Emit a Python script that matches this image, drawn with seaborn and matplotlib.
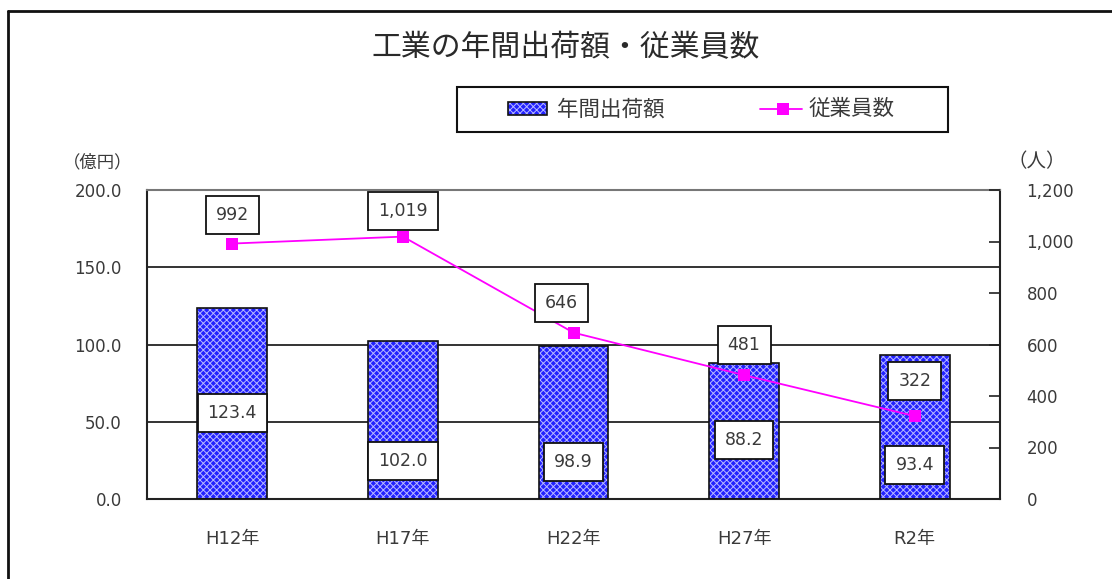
import numpy as np
import pandas as pd
import matplotlib
matplotlib.use("Agg")
import matplotlib.pyplot as plt
from matplotlib.patches import Rectangle
from matplotlib.lines import Line2D
import seaborn as sns

# ---- data ----
categories = ["H12年", "H17年", "H22年", "H27年", "R2年"]
shipments = [123.4, 102.0, 98.9, 88.2, 93.4]          # 億円
employees = [992, 1019, 646, 481, 322]                 # 人
shipment_labels = ["123.4", "102.0", "98.9", "88.2", "93.4"]
employee_labels = ["992", "1,019", "646", "481", "322"]
left_ticks = [0, 50, 100, 150, 200]
left_ticklabels = ["0.0", "50.0", "100.0", "150.0", "200.0"]
right_ticks = [0, 200, 400, 600, 800, 1000, 1200]
right_ticklabels = ["0", "200", "400", "600", "800", "1,000", "1,200"]

# label box placement (data units of each axis)
bar_label_y = [55.7, 24.6, 24.0, 38.0, 22.0]
line_label_y = [1103, 1118, 761, 598, 458]
line_label_dx = [0, 0, -0.07, 0, 0]

sns.set_theme(style="white")
plt.rcParams["font.family"] = ["DejaVu Sans", "Noto Sans CJK JP"]
plt.rcParams["hatch.linewidth"] = 0.7

TXT = "#3a3a3a"
BLUE = "#2222ff"
HATCH = "#b8b8ff"
MAG = "#ff00ff"

fig = plt.figure(figsize=(11.12, 5.79), dpi=100)
ax = fig.add_axes([147/1112, 1-499/579, (1000-147)/1112, (499-190)/579])

df = pd.DataFrame({"cat": categories, "val": shipments})
sns.barplot(data=df, x="cat", y="val", ax=ax, color=BLUE, width=0.41,
            saturation=1, edgecolor="white", linewidth=0, zorder=2)
for p in ax.patches:
    p.set_hatch("xxxxx")
    p.set_facecolor(BLUE)
    p.set_edgecolor(HATCH)
    p.set_linewidth(0)
    ax.add_patch(Rectangle(p.get_xy(), p.get_width(), p.get_height(),
                           fill=False, edgecolor="#111111", linewidth=1.2, zorder=3))

ax.set_ylim(0, 200)
ax.set_xlim(-0.5, 4.5)
ax.set_yticks(left_ticks)
ax.set_yticklabels(left_ticklabels, fontsize=12, color=TXT)
ax.set_xticks(range(len(categories)))
ax.set_xticklabels(categories, fontsize=13, color=TXT)
ax.tick_params(axis="y", length=0, pad=18)
ax.tick_params(axis="x", length=0, pad=22)
ax.set_xlabel("")
ax.set_ylabel("")
for v in [50, 100, 150]:
    ax.axhline(v, color="#111111", lw=1.2, zorder=1)
for s in ["left", "right", "top", "bottom"]:
    ax.spines[s].set_color("#222222")
    ax.spines[s].set_linewidth(1.5)
ax.spines["top"].set_color("#777777")

ax2 = ax.twinx()
sns.lineplot(x=np.arange(len(employees)), y=employees, ax=ax2, color=MAG,
             marker="s", markersize=9, markeredgewidth=0, linewidth=1.3, zorder=4)
ax2.set_ylim(0, 1200)
ax2.set_yticks(right_ticks)
ax2.set_yticklabels(right_ticklabels, fontsize=12, color=TXT)
ax2.tick_params(axis="y", direction="in", length=8, width=1.2, color="#222222", pad=19, right=True)
ax2.set_ylabel("")
ax2.set_xlim(-0.5, 4.5)
for s in ax2.spines.values():
    s.set_visible(False)
ax2.grid(False)
ax.grid(False)
ax.set_zorder(1)
ax2.set_zorder(2)

box = dict(boxstyle="square,pad=0.58", fc="white", ec="#111111", lw=1.3)
for i, (lbl, y) in enumerate(zip(shipment_labels, bar_label_y)):
    ax2.text(i, y * 6, lbl, ha="center", va="center", fontsize=12.5, color=TXT,
             bbox=box, zorder=6)
for i, (lbl, y) in enumerate(zip(employee_labels, line_label_y)):
    ax2.text(i + line_label_dx[i], y, lbl, ha="center", va="center", fontsize=12.5,
             color=TXT, bbox=box, zorder=6)

# unit labels
fig.text(98/1112, 1-162/579, "（億円）", ha="center", va="center", fontsize=12.5, color=TXT)
fig.text(1037/1112, 1-162/579, "（人）", ha="center", va="center", fontsize=14, color=TXT)

# title
fig.text(566/1112, 1-48/579, "工業の年間出荷額・従業員数", ha="center", va="center",
         fontsize=21.5, color="#2a2a2a")

# legend box
fig.patches.append(Rectangle((457/1112, 1-132/579), (948-457)/1112, 45/579,
                             transform=fig.transFigure, fill=False, ec="#111111", lw=1.5))
fig.patches.append(Rectangle((508/1112, 1-115/579), 39/1112, 13/579,
                             transform=fig.transFigure, fc=BLUE, ec=HATCH,
                             hatch="xxxxx", lw=0))
fig.patches.append(Rectangle((508/1112, 1-115/579), 39/1112, 13/579,
                             transform=fig.transFigure, fill=False, ec="#111111", lw=1.2))
fig.text(557/1112, 1-109/579, "年間出荷額", ha="left", va="center", fontsize=15.5, color=TXT)
fig.lines.append(Line2D([760/1112, 802/1112], [1-109/579, 1-109/579], transform=fig.transFigure,
                        color=MAG, lw=1.3))
fig.lines.append(Line2D([783/1112], [1-109/579], transform=fig.transFigure,
                        color=MAG, marker="s", markersize=9, markeredgewidth=0))
fig.text(809/1112, 1-109/579, "従業員数", ha="left", va="center", fontsize=15.5, color=TXT)

# outer frame (top and left edges visible)
fig.lines.append(Line2D([8/1112, 8/1112], [0, 1-11/579], transform=fig.transFigure,
                        color="#111111", lw=2))
fig.lines.append(Line2D([8/1112, 1], [1-11/579, 1-11/579], transform=fig.transFigure,
                        color="#111111", lw=2))

fig.savefig("out.png", dpi=100)
